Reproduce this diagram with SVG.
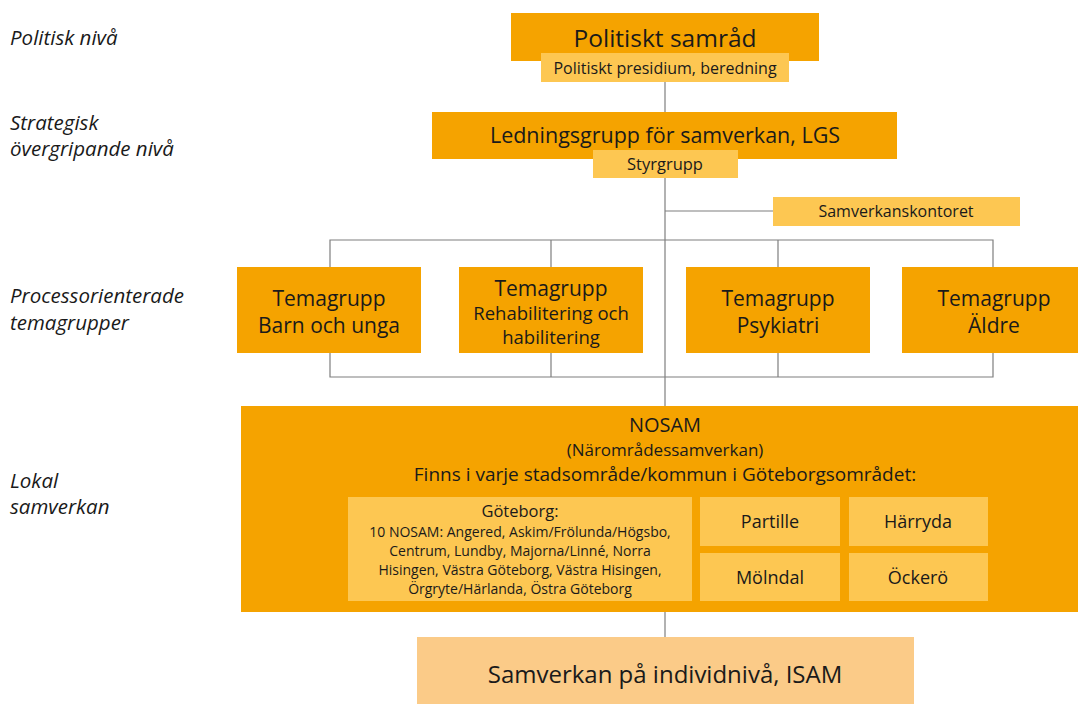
<svg xmlns="http://www.w3.org/2000/svg" width="1078" height="704" viewBox="0 0 1078 704">
<style>
text{font-family:"Open Sans","Noto Sans","DejaVu Sans",sans-serif;fill:#1a1a1a;text-anchor:middle}
.lvl{font-style:italic;font-size:20.5px;text-anchor:start}
.main{fill:#F5A300}
.lite{fill:#FDC752}
.isam{fill:#FBCB88}
.ln{stroke:#7f7f7f;stroke-width:1.2;fill:none}
</style>
<rect width="1078" height="704" fill="#fff"/>
<g id="levels">
<text class="lvl" x="10" y="45">Politisk nivå</text>
<text class="lvl" x="10" y="130">Strategisk</text>
<text class="lvl" x="10" y="156">övergripande nivå</text>
<text class="lvl" x="10" y="303">Processorienterade</text>
<text class="lvl" x="10" y="330">temagrupper</text>
<text class="lvl" x="10" y="488">Lokal</text>
<text class="lvl" x="10" y="514">samverkan</text>
</g>
<g id="connectors">
<line class="ln" x1="665" y1="82" x2="665" y2="112"/>
<line class="ln" x1="665" y1="178" x2="665" y2="406"/>
<line class="ln" x1="665" y1="211" x2="773" y2="211"/>
<path class="ln" d="M330 267V240H993V267M551 240V267M778 240V267"/>
<path class="ln" d="M330 353V377H993V353M551 353V377M778 353V377"/>
<line class="ln" x1="665" y1="612" x2="665" y2="637"/>
</g>
<g id="politiskt-samrad">
<rect class="main" x="511" y="13" width="308" height="48"/>
<text x="665" y="47" font-size="24.5">Politiskt samråd</text>
</g>
<g id="presidium">
<rect class="lite" x="541" y="53" width="248" height="29"/>
<text x="665" y="74" font-size="16">Politiskt presidium, beredning</text>
</g>
<g id="lgs">
<rect class="main" x="432" y="112" width="465" height="47"/>
<text x="665" y="143" font-size="21.5">Ledningsgrupp för samverkan, LGS</text>
</g>
<g id="styrgrupp">
<rect class="lite" x="593" y="150" width="145" height="28"/>
<text x="665" y="170" font-size="16.5">Styrgrupp</text>
</g>
<g id="samverkanskontoret">
<rect class="lite" x="773" y="197" width="247" height="29"/>
<text x="896" y="217" font-size="16">Samverkanskontoret</text>
</g>
<g id="tema-barn">
<rect class="main" x="237" y="267" width="184" height="86"/>
<text x="329" y="306" font-size="21">Temagrupp</text>
<text x="329" y="333" font-size="21">Barn och unga</text>
</g>
<g id="tema-rehab">
<rect class="main" x="459" y="267" width="184" height="86"/>
<text x="551" y="296" font-size="21">Temagrupp</text>
<text x="551" y="320" font-size="18.5">Rehabilitering och</text>
<text x="551" y="344" font-size="18.5">habilitering</text>
</g>
<g id="tema-psykiatri">
<rect class="main" x="686" y="267" width="184" height="86"/>
<text x="778" y="306" font-size="21">Temagrupp</text>
<text x="778" y="333" font-size="21">Psykiatri</text>
</g>
<g id="tema-aldre">
<rect class="main" x="902" y="267" width="176" height="86"/>
<text x="994" y="306" font-size="21">Temagrupp</text>
<text x="994" y="333" font-size="21">Äldre</text>
</g>
<g id="nosam">
<rect class="main" x="241" y="406" width="837" height="206"/>
<text x="665" y="432" font-size="20">NOSAM</text>
<text x="665" y="456" font-size="17">(Närområdessamverkan)</text>
<text x="665" y="481" font-size="19">Finns i varje stadsområde/kommun i Göteborgsområdet:</text>
</g>
<g id="goteborg">
<rect class="lite" x="348" y="497" width="344" height="104"/>
<text x="520" y="517" font-size="16.5">Göteborg:</text>
<text x="520" y="537" font-size="14">10 NOSAM: Angered, Askim/Frölunda/Högsbo,</text>
<text x="520" y="556" font-size="14">Centrum, Lundby,  Majorna/Linné, Norra</text>
<text x="520" y="575" font-size="14">Hisingen, Västra Göteborg, Västra Hisingen,</text>
<text x="520" y="594" font-size="14">Örgryte/Härlanda, Östra Göteborg</text>
</g>
<g id="partille">
<rect class="lite" x="700" y="497" width="140" height="49"/>
<text x="770" y="528" font-size="18">Partille</text>
</g>
<g id="harryda">
<rect class="lite" x="849" y="497" width="139" height="49"/>
<text x="918" y="528" font-size="18">Härryda</text>
</g>
<g id="molndal">
<rect class="lite" x="700" y="553" width="140" height="48"/>
<text x="770" y="584" font-size="18">Mölndal</text>
</g>
<g id="ockero">
<rect class="lite" x="849" y="553" width="139" height="48"/>
<text x="918" y="584" font-size="18">Öckerö</text>
</g>
<g id="isam">
<rect class="isam" x="417" y="637" width="497" height="67"/>
<text x="665" y="683" font-size="24">Samverkan på individnivå, ISAM</text>
</g>
</svg>
